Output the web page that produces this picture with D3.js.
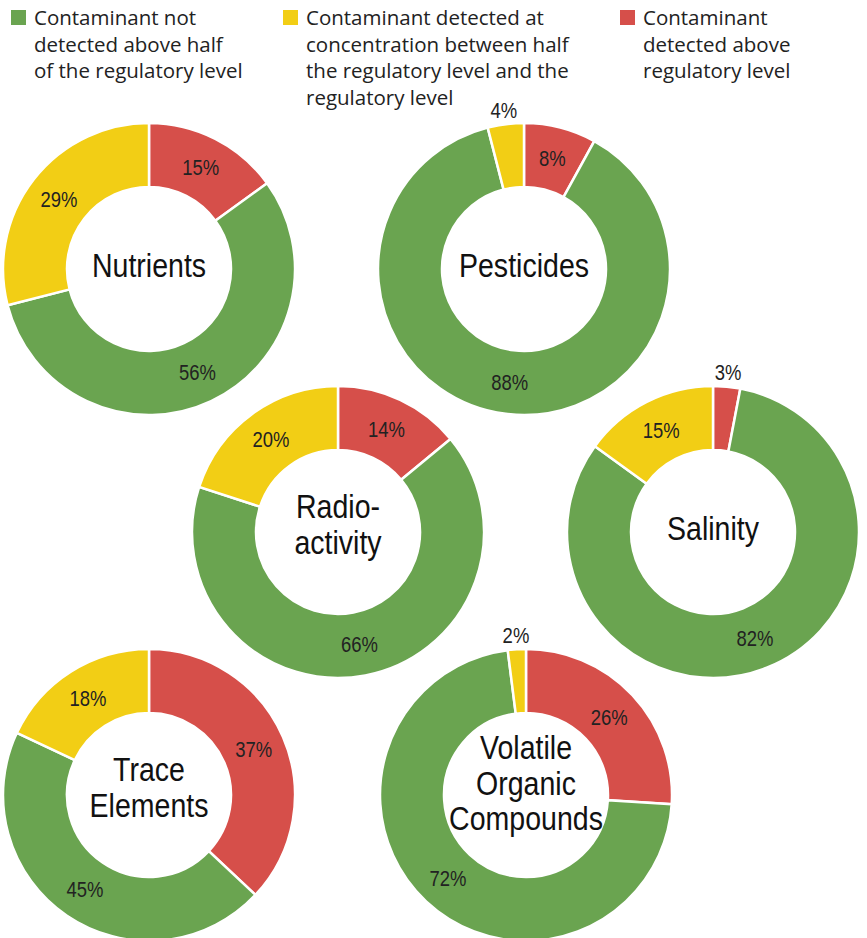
<!DOCTYPE html>
<html>
<head>
<meta charset="utf-8">
<script src="https://cdn.jsdelivr.net/npm/d3@7"></script>
<style>
  body { margin: 0; background: #fff; }
  text { font-family: "Liberation Sans", Arial, sans-serif; }
  .legend text { font-family: "Open Sans", "Noto Sans", sans-serif; }
</style>
</head>
<body>
<div id="chart"></div>
<script>
// contaminant groups, one donut each
var groups = ["Nutrients", "Pesticides", "Radioactivity", "Salinity", "Trace Elements", "Volatile Organic Compounds"];
var groupLines = [["Nutrients"], ["Pesticides"], ["Radio-", "activity"], ["Salinity"], ["Trace", "Elements"], ["Volatile", "Organic", "Compounds"]];

// percent of samples in each category
var aboveLevel = [15, 8, 14, 3, 37, 26];
var notDetected = [56, 88, 66, 82, 45, 72];
var betweenHalf = [29, 4, 20, 15, 18, 2];

var categories = ["above", "none", "between"];
var legendLines = {
  none: ["Contaminant not", "detected above half", "of the regulatory level"],
  between: ["Contaminant detected at", "concentration between half", "the regulatory level and the", "regulatory level"],
  above: ["Contaminant", "detected above", "regulatory level"]
};

var width = 867, height = 938;
var outerR = 146, innerR = 82;

// donut centres
var centers = [[149, 269], [524, 269], [338, 532], [713, 532], [149, 795], [526, 795]];

// narrow the font horizontally, the original uses a condensed face
var narrow = 0.84;

var color = d3.scaleOrdinal()
    .domain(categories)
    .range(["#d64f4a", "#6aa450", "#f2ce15"]);

var svg = d3.select("#chart").append("svg")
    .attr("width", width)
    .attr("height", height);

// legend
var legendX = {none: 11, between: 283, above: 620};
["none", "between", "above"].forEach(function(k) {
  var lg = svg.append("g")
      .attr("class", "legend")
      .attr("transform", "translate(" + legendX[k] + ",0)");
  lg.append("rect")
    .attr("x", 0).attr("y", 10)
    .attr("width", 15).attr("height", 15)
    .attr("fill", color(k));
  lg.selectAll("text")
    .data(legendLines[k])
    .enter().append("text")
    .attr("x", 23)
    .attr("y", function(d, i) { return 25 + i * 26.5; })
    .attr("font-size", 20.5)
    .attr("fill", "#222")
    .text(function(d) { return d; });
});

var pie = d3.pie().sort(null).value(function(d) { return d.value; });
var arc = d3.arc().innerRadius(innerR).outerRadius(outerR);
var labelArc = d3.arc().innerRadius(160).outerRadius(160);

groups.forEach(function(name, i) {
  var data = [
    {key: "above", value: aboveLevel[i]},
    {key: "none", value: notDetected[i]},
    {key: "between", value: betweenHalf[i]}
  ];
  var g = svg.append("g")
      .attr("class", "donut")
      .attr("transform", "translate(" + centers[i][0] + "," + centers[i][1] + ")");

  var slices = pie(data);

  g.selectAll("path")
    .data(slices)
    .enter().append("path")
    .attr("d", arc)
    .attr("fill", function(d) { return color(d.data.key); })
    .attr("stroke", "#fff")
    .attr("stroke-width", 2.5);

  g.selectAll(".pct")
    .data(slices)
    .enter().append("text")
    .attr("class", "pct")
    .attr("transform", function(d) {
      var p = d.data.value < 5 ? labelArc.centroid(d) : arc.centroid(d);
      return "translate(" + p + ") scale(" + narrow + ",1)";
    })
    .attr("text-anchor", "middle")
    .attr("dy", "0.35em")
    .attr("font-size", 22)
    .attr("fill", "#222")
    .text(function(d) { return d.data.value + "%"; });

  var lines = groupLines[i];
  var first = 8 - (lines.length - 1) * 22;
  g.selectAll(".name")
    .data(lines)
    .enter().append("text")
    .attr("class", "name")
    .attr("text-anchor", "middle")
    .attr("transform", function(d, j) { return "translate(0," + (first + j * 35.5) + ") scale(" + narrow + ",1)"; })
    .attr("font-size", 34)
    .attr("fill", "#111")
    .text(function(d) { return d; });
});
</script>
</body>
</html>
